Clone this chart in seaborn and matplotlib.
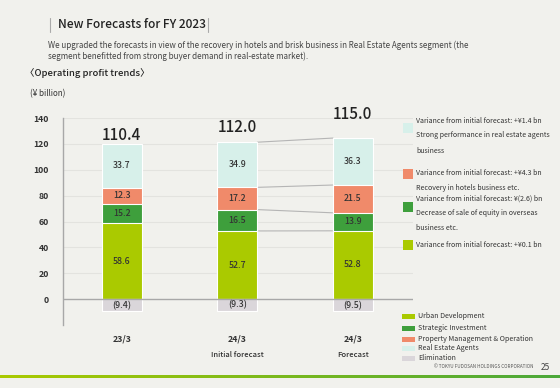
import matplotlib.pyplot as plt
import numpy as np
import pandas as pd
import seaborn as sns
from matplotlib.lines import Line2D
from matplotlib.patches import Rectangle

# Data (¥ billion)
periods = ['23/3', '24/3', '24/3']
period_notes = ['', 'Initial forecast', 'Forecast']
segments = ['Urban Development', 'Strategic Investment',
            'Property Management & Operation', 'Real Estate Agents']
urban = [58.6, 52.7, 52.8]
strategic = [15.2, 16.5, 13.9]
property_mgmt = [12.3, 17.2, 21.5]
agents = [33.7, 34.9, 36.3]
elimination = [-9.4, -9.3, -9.5]
totals = [110.4, 112.0, 115.0]

notes = [
    ['Variance from initial forecast: +¥1.4 bn',
     'Strong performance in real estate agents', 'business'],
    ['Variance from initial forecast: +¥4.3 bn',
     'Recovery in hotels business etc.'],
    ['Variance from initial forecast: ¥(2.6) bn',
     'Decrease of sale of equity in overseas', 'business etc.'],
    ['Variance from initial forecast: +¥0.1 bn'],
]

colors = ['#AACA00', '#3E9F3C', '#F08A6A', '#D7F0EA']
elim_color = '#DAD6DA'
bg = '#F1F1ED'
txt = '#333333'
mid_w = 'medium'

sns.set_theme(style='white')
plt.rcParams['font.family'] = ['Noto Sans CJK JP', 'DejaVu Sans']

fig = plt.figure(figsize=(5.6, 3.88), dpi=100, facecolor=bg)
ax = fig.add_axes([63 / 560, 63 / 388, 350 / 560, 207 / 388])
ax.set_facecolor(bg)

stack = np.array([urban, strategic, property_mgmt, agents])
cum = stack.cumsum(axis=0)
x = np.arange(len(periods))
width = 0.345

df = pd.DataFrame({'pos': x})
# draw cumulative tops back to front so segments stack
for i in range(len(segments) - 1, -1, -1):
    df['val'] = cum[i]
    sns.barplot(data=df, x='pos', y='val', color=colors[i], width=width,
                saturation=1, edgecolor='white', linewidth=0.8, ax=ax,
                native_scale=True, zorder=3)
df['val'] = elimination
sns.barplot(data=df, x='pos', y='val', color=elim_color, width=width,
            saturation=1, edgecolor='white', linewidth=0.8, ax=ax,
            native_scale=True, zorder=3)

ax.set_xlim(-0.51, 2.52)
ax.set_ylim(-20, 140)
ax.set_yticks(range(0, 141, 20))
for yv in range(20, 141, 20):
    ax.axhline(yv, color='#E3E3DF', lw=0.8, zorder=1)
ax.axhline(0, color='#A8A8A8', lw=1.0, zorder=4)
ax.tick_params(axis='y', length=0, pad=10, labelsize=6.3, labelcolor=txt)
for lab in ax.get_yticklabels():
    lab.set_fontweight('bold')
ax.set_xticks(x)
ax.set_xticklabels(periods, fontsize=6.3, fontweight='bold', color=txt)
ax.tick_params(axis='x', length=0, pad=7)
ax.set_xlabel('')
ax.set_ylabel('')
for s in ['top', 'right', 'bottom']:
    ax.spines[s].set_visible(False)
ax.spines['left'].set_color('#A8A8A8')
ax.spines['left'].set_linewidth(1.0)

for xi, note in zip(x, period_notes):
    if note:
        ax.text(xi, -43, note, ha='center', va='center', fontsize=5.5,
                fontweight=mid_w, color=txt, clip_on=False)

# segment labels
for i in range(len(segments)):
    for xi in x:
        mid = cum[i][xi] - stack[i][xi] / 2
        ax.text(xi, mid, f'{stack[i][xi]:.1f}', ha='center', va='center',
                fontsize=6.3, fontweight=mid_w, color=txt, zorder=5)
total_gap = [7, 11, 18]
for xi in x:
    ax.text(xi, elimination[xi] / 2, f'({-elimination[xi]:.1f})',
            ha='center', va='center', fontsize=6.3, fontweight=mid_w,
            color=txt, zorder=5)
    ax.text(xi, cum[-1][xi] + total_gap[xi], f'{totals[xi]:.1f}', ha='center',
            va='center', fontsize=11, fontweight=mid_w, color='#222222',
            clip_on=False)

# connector lines between initial forecast and forecast
for i in range(len(segments)):
    ax.plot([1 + width / 2, 2 - width / 2], [cum[i][1], cum[i][2]],
            color='#B5B5B5', lw=0.8, zorder=2)

# right-hand notes
note_sq_y = [128, 174, 207, 245]
note_text_y = [[121, 135, 151], [173, 188], [199, 213, 228], [245]]
for k, (sy, lines) in enumerate(zip(note_sq_y, notes)):
    seg = len(segments) - 1 - k
    fig.add_artist(Rectangle((403 / 560, 1 - (sy + 5) / 388), 10 / 560, 10 / 388,
                             transform=fig.transFigure, facecolor=colors[seg],
                             edgecolor='none'))
    for ty, line in zip(note_text_y[k], lines):
        fig.text(416 / 560, 1 - ty / 388, line, ha='left', va='center',
                 fontsize=5.05, color=txt)

# legend
legend_labels = segments + ['Elimination']
legend_colors = colors + [elim_color]
legend_y = [316, 328, 339, 348, 358]
for lab, col, ly in zip(legend_labels, legend_colors, legend_y):
    fig.add_artist(Rectangle((402 / 560, 1 - (ly + 2.5) / 388), 13 / 560, 5 / 388,
                             transform=fig.transFigure, facecolor=col,
                             edgecolor='none'))
    fig.text(418 / 560, 1 - ly / 388, lab, ha='left', va='center',
             fontsize=5.1, color=txt)

# header texts
fig.text(58 / 560, 1 - 25 / 388, 'New Forecasts for FY 2023', ha='left',
         va='center', fontsize=8.6, fontweight=mid_w, color='#222222')
for lx in [50, 208]:
    fig.add_artist(Line2D([lx / 560, lx / 560], [1 - 18 / 388, 1 - 32 / 388],
                          transform=fig.transFigure, color='#AAAAAA', lw=0.8))
fig.text(48 / 560, 1 - 45 / 388,
         'We upgraded the forecasts in view of the recovery in hotels and brisk '
         'business in Real Estate Agents segment (the',
         ha='left', va='center', fontsize=5.8, color='#444444')
fig.text(48 / 560, 1 - 56 / 388,
         'segment benefitted from strong buyer demand in real-estate market).',
         ha='left', va='center', fontsize=5.8, color='#444444')
fig.text(25 / 560, 1 - 73 / 388, '〈Operating profit trends〉', ha='left',
         va='center', fontsize=6.8, fontweight=mid_w, color='#222222')
fig.text(30 / 560, 1 - 94 / 388, '(¥ billion)', ha='left', va='center',
         fontsize=5.8, color=txt)

# footer
fig.text(533 / 560, 1 - 367 / 388, '© TOKYU FUDOSAN HOLDINGS CORPORATION',
         ha='right', va='center', fontsize=3.3, color='#555555')
fig.text(541 / 560, 1 - 367 / 388, '25', ha='left', va='center',
         fontsize=6, color='#444444')
grad = np.linspace(0, 1, 256).reshape(1, -1)
gax = fig.add_axes([0, 1 - 378 / 388, 1, 3 / 388])
gax.imshow(grad, aspect='auto',
           cmap=sns.blend_palette(['#AACA00', '#4BA83A'], as_cmap=True))
gax.axis('off')

fig.savefig('out.png', dpi=100, facecolor=bg)
